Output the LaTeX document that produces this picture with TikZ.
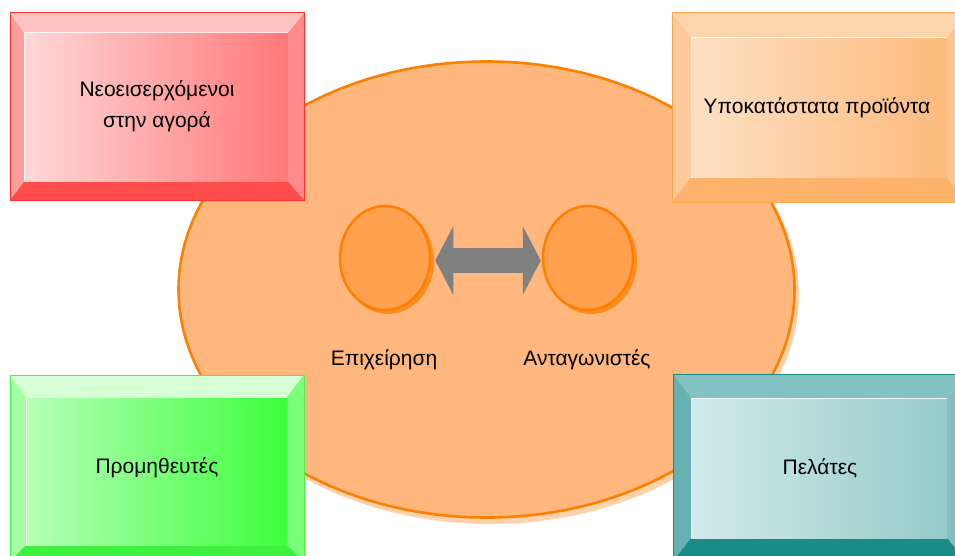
\documentclass[tikz,border=0pt]{standalone}
\usepackage{fontspec}
\setmainfont{Liberation Sans}
\usetikzlibrary{arrows.meta,shapes.geometric}
% red box
\definecolor{rT}{HTML}{FFC2C2}\definecolor{rL}{HTML}{FF9C9C}\definecolor{rR}{HTML}{FF8A8A}
\definecolor{rB}{HTML}{FF4C4C}\definecolor{rF}{HTML}{FFD8D8}\definecolor{rG}{HTML}{FF7878}\definecolor{rO}{HTML}{FF3030}
% orange box
\definecolor{oT}{HTML}{FDD5AD}\definecolor{oL}{HTML}{FDC99A}\definecolor{oR}{HTML}{FDC48E}
\definecolor{oB}{HTML}{FDB36C}\definecolor{oF}{HTML}{FDE0C4}\definecolor{oG}{HTML}{FDBA7C}\definecolor{oO}{HTML}{FFA448}
% green box
\definecolor{gT}{HTML}{D6FFD6}\definecolor{gL}{HTML}{A4FFA4}\definecolor{gR}{HTML}{7AFF7A}
\definecolor{gB}{HTML}{40F040}\definecolor{gF}{HTML}{B8FFB8}\definecolor{gG}{HTML}{3CFF3C}\definecolor{gO}{HTML}{4CF04C}
% teal box
\definecolor{tT}{HTML}{82C2C2}\definecolor{tL}{HTML}{66B2B2}\definecolor{tR}{HTML}{80C0C0}
\definecolor{tB}{HTML}{1A8C88}\definecolor{tF}{HTML}{D2EAEA}\definecolor{tG}{HTML}{96CACA}\definecolor{tO}{HTML}{1A8A88}
% centre
\definecolor{ellFill}{HTML}{FFB77E}\definecolor{ellLine}{HTML}{FF7F00}\definecolor{ellShadow}{HTML}{FFD2AC}
\definecolor{circFill}{HTML}{FFA14E}\definecolor{circShadow}{HTML}{FF8C22}
\definecolor{arrowGray}{HTML}{808080}

% #1 colour prefix, #2..#5 outer x1 y1 x2 y2, #6..#9 inner x1 y1 x2 y2
\newcommand\bevbox[9]{%
  \fill[#1T] (#2,#3) -- (#4,#3) -- (#8,#7) -- (#6,#7) -- cycle;
  \fill[#1L] (#2,#3) -- (#6,#7) -- (#6,#9) -- (#2,#5) -- cycle;
  \fill[#1R] (#4,#3) -- (#4,#5) -- (#8,#9) -- (#8,#7) -- cycle;
  \fill[#1B] (#2,#5) -- (#4,#5) -- (#8,#9) -- (#6,#9) -- cycle;
  \shade[left color=#1F, right color=#1G] (#6,#7) rectangle (#8,#9);
  \draw[white, opacity=0.8, line width=1pt] (#6,#9) -- (#6,#7) -- (#8,#7);
  \draw[#1O, line width=1pt] (#2,#3) rectangle (#4,#5);
}

\tikzset{
  label text/.style={font=\fontsize{21}{31}\selectfont, text=black, align=center, inner sep=0pt},
  disc/.style={ellipse, draw=ellLine, fill=circFill, line width=2.5pt,
               minimum width=90pt, minimum height=104pt, inner sep=0pt},
  discshadow/.style={ellipse, fill=circShadow, minimum width=92pt, minimum height=106pt, inner sep=0pt},
}

\begin{document}
\begin{tikzpicture}[x=1pt, y=-1pt]
\useasboundingbox (0,0) rectangle (955,556);
\clip (0,0) rectangle (955,556);
\fill[white] (0,0) rectangle (955,556);

% big ellipse
\fill[ellShadow] (490,295) ellipse [x radius=309pt, y radius=229pt];
\draw[ellLine, fill=ellFill, line width=2.6pt] (486.5,289.5) ellipse [x radius=308pt, y radius=228pt];

% the four boxes
\bevbox{r}{10}{13}{304}{200}{24}{33}{288}{182}
\node[label text] (entrants) at (157,106) {Νεοεισερχόμενοι\\στην αγορά};

\bevbox{o}{672}{13}{966}{202}{691}{38}{947}{178}
\node[label text] (substitutes) at (817,108) {Υποκατάστατα προϊόντα};

\bevbox{g}{10}{375}{304}{561}{26}{397}{287}{545}
\node[label text] (suppliers) at (157,468) {Προμηθευτές};

\bevbox{t}{673}{374}{966}{561}{691}{398}{947}{538}
\node[label text] (customers) at (820,468) {Πελάτες};

% the two discs
\node[discshadow] (firmS) at (388,261) {};
\node[disc] (firm) at (385,258) {};
\node[discshadow] (rivalS) at (591,261) {};
\node[disc] (rival) at (588,258) {};

% double arrow
\draw[arrowGray, line width=25pt,
      {Triangle[length=18pt, width=68pt]}-{Triangle[length=18pt, width=68pt]},
      shorten <=4pt, shorten >=1pt]
  ([yshift=-2.5pt]firm.east) -- ([yshift=-2.5pt]rival.west);

% labels
\node[label text] (firmlabel) at (384,360) {Επιχείρηση};
\node[label text] (rivallabel) at (587,360) {Ανταγωνιστές};
\end{tikzpicture}
\end{document}
